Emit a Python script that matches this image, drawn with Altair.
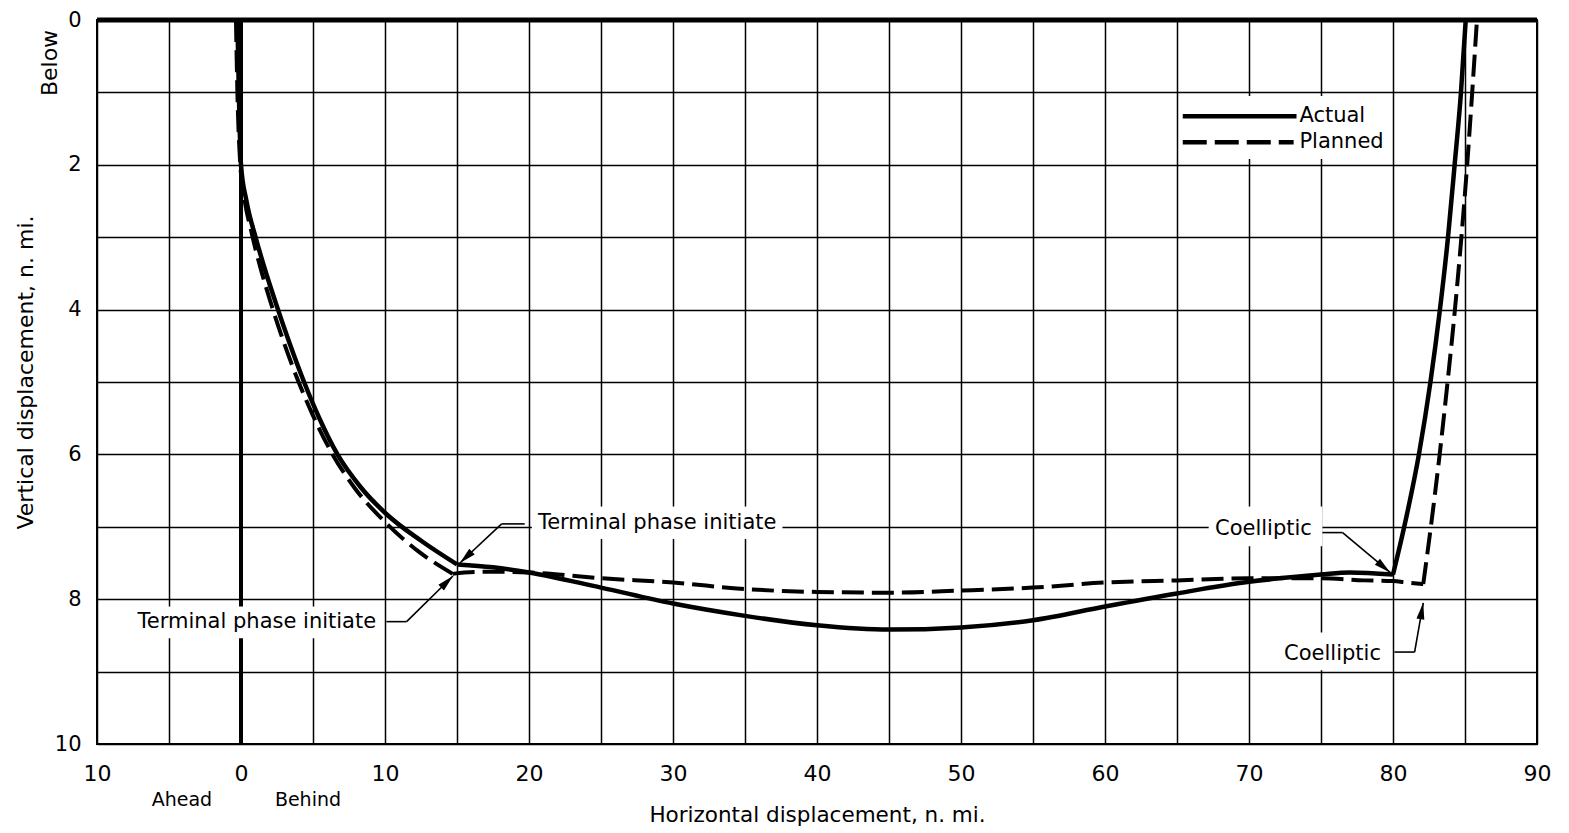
import math
import altair as alt
import pandas as pd

# ---- data ----
# Actual trajectory: three pieces (to TPI, to coelliptic, to end) share corner points
actual_x = [-0.25, -0.15, 0.0, 0.38, 1.01, 1.67, 2.4, 3.35, 4.38, 5.44, 6.7, 8.3, 10.13, 12.56, 15.0,
            17.5, 20.0, 25.0, 30.0, 35.0, 40.0, 45.0, 50.0, 55.0, 60.0, 65.0, 70.0, 75.0, 77.0, 80.0,
            80.78, 81.8, 82.6, 83.26, 83.82, 84.28, 84.72, 85.05]
actual_y = [0.0, 1.0, 2.0, 2.5, 3.0, 3.45, 3.9, 4.45, 5.0, 5.5, 6.0, 6.45, 6.83, 7.2, 7.52,
            7.56, 7.63, 7.84, 8.06, 8.23, 8.36, 8.42, 8.39, 8.29, 8.10, 7.92, 7.76, 7.66, 7.63, 7.66,
            7.0, 6.0, 5.0, 4.0, 3.0, 2.0, 1.0, 0.0]
actual_breaks = [14, 29]   # indices of the TPI and coelliptic corners

planned_x = [-0.35, -0.25, -0.05, 0.15, 0.75, 1.32, 2.06, 2.97, 4.0, 4.97, 6.36, 7.84, 9.93, 12.32, 14.7,
             15.5, 17.5, 20.0, 25.0, 30.0, 35.0, 40.0, 45.0, 50.0, 55.0, 60.0, 65.0, 70.0, 75.0,
             78.0, 80.0, 81.0, 82.1, 82.63, 83.24, 83.79, 84.3, 84.75, 85.15, 85.5, 85.83]
planned_y = [0.0, 1.0, 2.0, 2.35, 2.95, 3.4, 3.9, 4.45, 5.0, 5.45, 6.0, 6.45, 6.92, 7.34, 7.65,
             7.63, 7.62, 7.63, 7.71, 7.77, 7.86, 7.90, 7.91, 7.88, 7.84, 7.77, 7.74, 7.71, 7.71,
             7.74, 7.75, 7.77, 7.79, 7.0, 6.0, 5.0, 4.0, 3.0, 2.0, 1.0, 0.0]
planned_breaks = [14, 32]

x_ticks = list(range(-10, 95, 5))
y_ticks = list(range(0, 11))

# annotation labels
label_text = ["Terminal phase initiate", "Terminal phase initiate", "Coelliptic", "Coelliptic"]
label_x = [28.9, 1.1, 71.0, 75.8]
label_y = [6.95, 8.31, 7.03, 8.75]

# white knock-out boxes behind labels and legend
knock_x1 = [20.2, -7.6, 67.2, 72.2, 65.2]
knock_x2 = [37.6, 9.9, 75.1, 79.7, 79.6]
knock_y1 = [6.72, 8.10, 6.72, 8.46, 1.05]
knock_y2 = [7.17, 8.54, 7.27, 8.98, 1.92]

# leader segments: horizontal stub, then diagonal to arrow tip
lead_x1 = [19.7, 18.1, 10.1, 11.5, 75.1, 76.5, 80.1, 81.5]
lead_y1 = [6.96, 6.96, 8.31, 8.31, 7.08, 7.08, 8.73, 8.73]
lead_x2 = [18.1, 15.2, 11.5, 14.72, 76.5, 79.8, 81.5, 82.1]
lead_y2 = [6.96, 7.50, 8.31, 7.68, 7.08, 7.63, 8.73, 8.05]

# legend
legend_names = ["Actual", "Planned"]
legend_x1 = [65.4, 65.4]
legend_x2 = [73.3, 73.1]
legend_y = [1.33, 1.69]
legend_text_x = [73.5, 73.5]

# under-axis labels
side_text = ["Ahead", "Behind"]
side_x = [-4.1, 4.65]

# ---- layout ----
W, H = 1440, 724
SX = W / 100.0   # px per x unit
SY = H / 10.0    # px per y unit
FONT = "DejaVu Sans"

xs = alt.Scale(domain=[-10, 90], nice=False, zero=False)
ys = alt.Scale(domain=[0, 10], reverse=True, nice=False, zero=False)


def pieces(xv, yv, breaks):
    rows = []
    cuts = [0] + breaks + [len(xv) - 1]
    order = 0
    for s in range(len(cuts) - 1):
        for i in range(cuts[s], cuts[s + 1] + 1):
            rows.append({"x": xv[i], "y": yv[i], "seg": s, "o": order})
            order += 1
    return pd.DataFrame(rows)


actual_df = pieces(actual_x, actual_y, actual_breaks)
planned_df = pieces(planned_x, planned_y, planned_breaks)
labels_df = pd.DataFrame({"t": label_text, "x": label_x, "y": label_y})
knock_df = pd.DataFrame({"x1": knock_x1, "x2": knock_x2, "y1": knock_y1, "y2": knock_y2})
lead_df = pd.DataFrame({"x1": lead_x1, "y1": lead_y1, "x2": lead_x2, "y2": lead_y2})

tips = []
for i in range(1, len(lead_x1), 2):
    dx = (lead_x2[i] - lead_x1[i]) * SX
    dy = (lead_y2[i] - lead_y1[i]) * SY
    ang = math.degrees(math.atan2(dx, -dy)) % 360
    tips.append({"x": lead_x2[i], "y": lead_y2[i], "a": ang})
tips_df = pd.DataFrame(tips)

legend_df = pd.DataFrame({"n": legend_names, "x1": legend_x1, "x2": legend_x2,
                          "y": legend_y, "tx": legend_text_x})
side_df = pd.DataFrame({"t": side_text, "x": side_x})

xaxis = alt.Axis(values=x_ticks, grid=True, ticks=False, domain=False, labelFlush=False,
                 labelExpr="datum.value % 10 == 0 ? format(abs(datum.value), 'd') : ''",
                 labelFont=FONT, labelFontSize=22, labelColor="black", labelPadding=19,
                 title="Horizontal displacement, n. mi.", titleFont=FONT, titleFontSize=21.5,
                 titleFontWeight="normal", titleColor="black", titleBaseline="middle", titleY=71)
yaxis = alt.Axis(values=y_ticks, grid=True, ticks=False, domain=False, labelFlush=False,
                 labelExpr="datum.value % 2 == 0 ? format(datum.value, 'd') : ''",
                 labelFont=FONT, labelFontSize=21, labelColor="black", labelPadding=16,
                 title="Vertical displacement, n. mi.", titleFont=FONT, titleFontSize=22,
                 titleFontWeight="normal", titleColor="black", titleBaseline="middle",
                 titleX=-72, titleY=352)

grid_anchor = alt.Chart(actual_df).mark_point(opacity=0).encode(
    x=alt.X("x:Q", scale=xs, axis=xaxis),
    y=alt.Y("y:Q", scale=ys, axis=yaxis),
)

zero_v = alt.Chart(pd.DataFrame({"x": [0.0], "y1": [0.0], "y2": [10.0]})).mark_rule(
    color="black", strokeWidth=4).encode(
    x=alt.X("x:Q", scale=xs), y=alt.Y("y1:Q", scale=ys), y2="y2:Q")
top_h = alt.Chart(pd.DataFrame({"y": [0.0], "x1": [-10.0], "x2": [90.0]})).mark_rule(
    color="black", strokeWidth=5).encode(
    y=alt.Y("y:Q", scale=ys), x=alt.X("x1:Q", scale=xs), x2="x2:Q")

knock = alt.Chart(knock_df).mark_rect(color="white").encode(
    x=alt.X("x1:Q", scale=xs), x2="x2:Q", y=alt.Y("y1:Q", scale=ys), y2="y2:Q")

actual_line = alt.Chart(actual_df).mark_line(color="black", strokeWidth=4.5,
                                             strokeJoin="round", interpolate="monotone").encode(
    x=alt.X("x:Q", scale=xs), y=alt.Y("y:Q", scale=ys), detail="seg:N", order="o:Q")
planned_line = alt.Chart(planned_df).mark_line(color="black", strokeWidth=4,
                                               strokeDash=[22, 8], strokeCap="butt",
                                               interpolate="monotone").encode(
    x=alt.X("x:Q", scale=xs), y=alt.Y("y:Q", scale=ys), detail="seg:N", order="o:Q")

leaders = alt.Chart(lead_df).mark_rule(color="black", strokeWidth=1.6).encode(
    x=alt.X("x1:Q", scale=xs), y=alt.Y("y1:Q", scale=ys), x2="x2:Q", y2="y2:Q")

arrows = alt.Chart(tips_df).mark_point(
    shape="M0,0 L0.24,1 L-0.24,1 Z", filled=True, color="black", opacity=1, size=1100,
    strokeWidth=0).encode(
    x=alt.X("x:Q", scale=xs), y=alt.Y("y:Q", scale=ys), angle=alt.Angle("a:Q", scale=None))

labels = alt.Chart(labels_df).mark_text(font=FONT, fontSize=21, color="black",
                                        align="center", baseline="middle").encode(
    x=alt.X("x:Q", scale=xs), y=alt.Y("y:Q", scale=ys), text="t:N")

legend_solid = alt.Chart(legend_df.iloc[[0]]).mark_rule(color="black", strokeWidth=4.5).encode(
    x=alt.X("x1:Q", scale=xs), x2="x2:Q", y=alt.Y("y:Q", scale=ys))
legend_dash = alt.Chart(legend_df.iloc[[1]]).mark_rule(color="black", strokeWidth=4.5,
                                                       strokeDash=[24, 8]).encode(
    x=alt.X("x1:Q", scale=xs), x2="x2:Q", y=alt.Y("y:Q", scale=ys))
legend_text = alt.Chart(legend_df).mark_text(font=FONT, fontSize=21, color="black",
                                             align="left", baseline="middle").encode(
    x=alt.X("tx:Q", scale=xs), y=alt.Y("y:Q", scale=ys), text="n:N")

side = alt.Chart(side_df).mark_text(font=FONT, fontSize=19, color="black",
                                    align="center", baseline="middle").encode(
    x=alt.X("x:Q", scale=xs), y=alt.value(780), text="t:N")

below = alt.Chart(pd.DataFrame({"t": ["Below"]})).mark_text(
    font=FONT, fontSize=22, color="black", align="center", baseline="middle", angle=270).encode(
    x=alt.value(-47), y=alt.value(43), text="t:N")

chart = alt.layer(
    grid_anchor, zero_v, top_h, knock, actual_line, planned_line, leaders, arrows, labels,
    legend_solid, legend_dash, legend_text, side, below
).properties(
    width=W, height=H,
    autosize=alt.AutoSizeParams(type="none"),
    padding={"left": 89, "top": 12, "right": 16, "bottom": 85},
    background="white",
).configure_view(
    stroke="black", strokeWidth=2
).configure_axis(
    gridColor="black", gridWidth=1.5, gridOpacity=1
)

chart.save("out.html", embed_options={"renderer": "svg", "actions": False})
